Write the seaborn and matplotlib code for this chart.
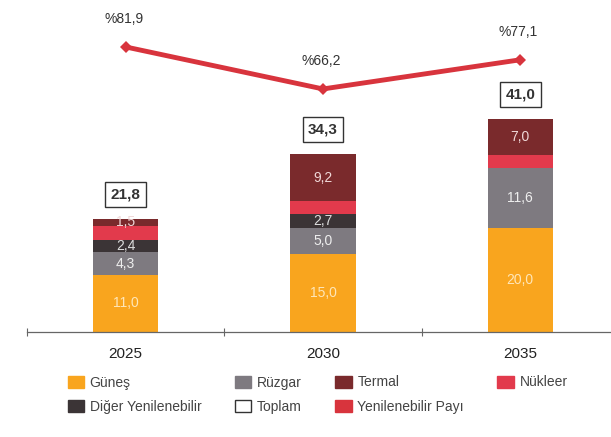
import matplotlib
matplotlib.use("Agg")
import matplotlib.pyplot as plt
import seaborn as sns
import pandas as pd
from matplotlib.patches import Patch

years = ["2025", "2030", "2035"]
gunes = [11.0, 15.0, 20.0]
ruzgar = [4.3, 5.0, 11.6]
diger = [2.4, 2.7, 0.0]
nukleer = [2.6, 2.4, 2.4]
termal = [1.5, 9.2, 7.0]
toplam = [21.8, 34.3, 41.0]
pay = [81.9, 66.2, 77.1]

series_names = ["Güneş", "Rüzgar", "Diğer Yenilenebilir", "Nükleer", "Termal"]
series_vals = [gunes, ruzgar, diger, nukleer, termal]
series_colors = ["#F9A51E", "#7E7A80", "#3B3436", "#E23A4C", "#7A2A2C"]
label_series = {"Güneş": True, "Rüzgar": True, "Diğer Yenilenebilir": True,
                "Nükleer": False, "Termal": True}
label_colors = {"Güneş": "#FFE6B8", "Rüzgar": "#EEEEEE",
                "Diğer Yenilenebilir": "#DDDDDD", "Termal": "#F0D8D8"}

sns.set_theme(style="white")
plt.rcParams["font.family"] = ["Liberation Sans", "DejaVu Sans"]

fig = plt.figure(figsize=(6.11, 4.37), dpi=100)
ax = fig.add_axes([27 / 611, 1 - 332 / 437, 1 - 27 / 611, 322 / 437])

bottom = [0.0] * len(years)
for name, vals, col in zip(series_names, series_vals, series_colors):
    df = pd.DataFrame({"Yıl": years, "v": vals})
    sns.barplot(data=df, x="Yıl", y="v", color=col, width=0.33,
                bottom=bottom, ax=ax, saturation=1, linewidth=0, errorbar=None)
    if label_series[name]:
        for i, v in enumerate(vals):
            if v > 0:
                ax.text(i, bottom[i] + v / 2, f"{v:.1f}".replace(".", ","),
                        ha="center", va="center", fontsize=10,
                        color=label_colors[name])
    bottom = [b + v for b, v in zip(bottom, vals)]

for i, t in enumerate(toplam):
    ax.annotate(f"{t:.1f}".replace(".", ","), xy=(i, t), xytext=(0, 24),
                textcoords="offset pixels", ha="center", va="center",
                fontsize=11, fontweight="bold", color="#333333",
                bbox=dict(boxstyle="square,pad=0.35", fc="white", ec="#333333", lw=1))

ax.set_ylim(0, 61.9)
ax.set_xlim(-0.5, 2.46)
ax.set_xlabel("")
ax.set_ylabel("")
ax.set_yticks([])
ax.set_xticks([0, 1, 2])
ax.set_xticklabels(years, fontsize=11, color="#222222")
ax.tick_params(axis="x", which="major", length=0, pad=11)
ax.set_xticks([-0.5, 0.5, 1.5], minor=True)
ax.tick_params(axis="x", which="minor", bottom=True, length=6, width=0.8,
               color="#666666", direction="inout")
for s in ["top", "right", "left"]:
    ax.spines[s].set_visible(False)
ax.spines["bottom"].set_color("#666666")
ax.spines["bottom"].set_linewidth(0.9)

ax2 = ax.twinx()
sns.lineplot(x=[0, 1, 2], y=pay, ax=ax2, color="#D8343D", linewidth=3.5,
             marker="D", markersize=6, markeredgewidth=0)
ax2.set_ylim(-24.6, 95.7)
ax2.set_xlim(-0.5, 2.46)
ax2.set_yticks([])
ax2.set_ylabel("")
for s in ["top", "right", "left", "bottom"]:
    ax2.spines[s].set_visible(False)
for i, p in enumerate(pay):
    ax2.annotate(f"%{p:.1f}".replace(".", ","), xy=(i, p), xytext=(-2, 28),
                 textcoords="offset pixels", ha="center", va="center",
                 fontsize=10, color="#333333")

handles = [
    Patch(color=series_colors[0], label="Güneş"),
    Patch(color=series_colors[2], label="Diğer Yenilenebilir"),
    Patch(color=series_colors[1], label="Rüzgar"),
    Patch(facecolor="white", edgecolor="#333333", label="Toplam"),
    Patch(color=series_colors[4], label="Termal"),
    Patch(color="#D8343D", label="Yenilenebilir Payı"),
    Patch(color=series_colors[3], label="Nükleer"),
]
fig.legend(handles=handles, ncol=4, loc="upper left",
           bbox_to_anchor=(55 / 611, 1 - 363 / 437), frameon=False,
           fontsize=10, handlelength=1.2, handleheight=1.0, handletextpad=0.4,
           columnspacing=2.4, labelspacing=0.75, labelcolor="#444444")

fig.savefig("out.png", dpi=100)
